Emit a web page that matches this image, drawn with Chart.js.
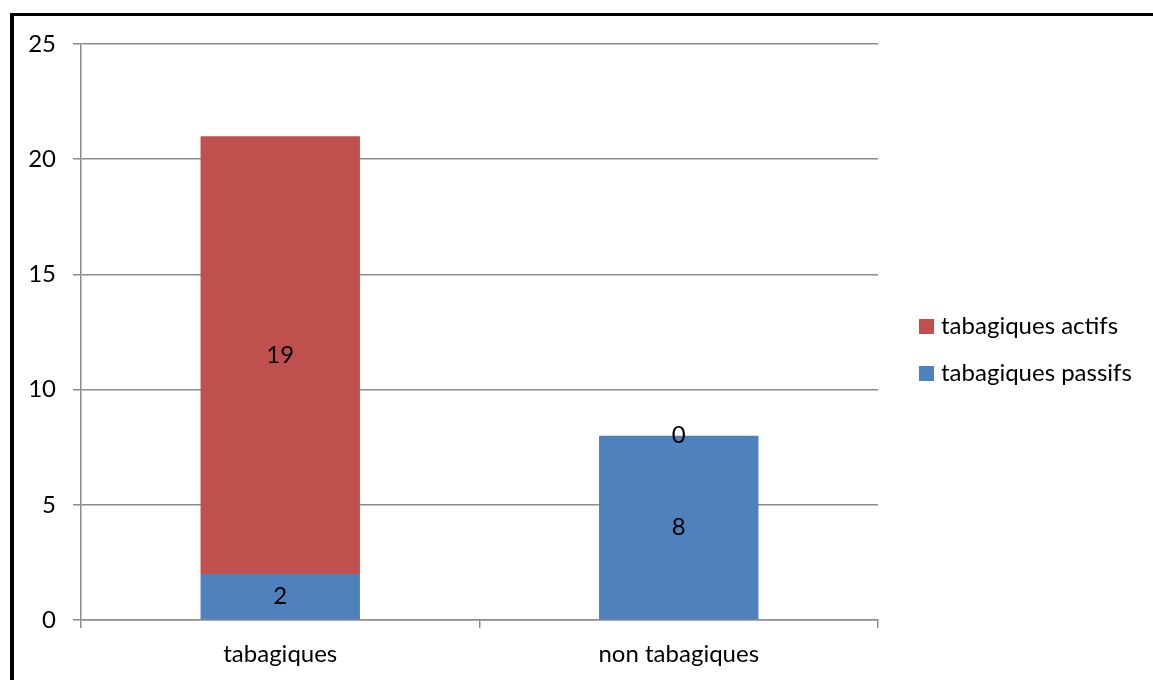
<!DOCTYPE html>
<html>
<head>
<meta charset="utf-8">
<script src="https://cdn.jsdelivr.net/npm/chart.js@4/dist/chart.umd.min.js"></script>
<style>
  html, body { margin: 0; padding: 0; background: #fff; }
  #wrap { width: 1153px; height: 680px; position: relative; }
</style>
</head>
<body>
<div id="wrap"><canvas id="smokeChart" width="1153" height="680"></canvas></div>
<script>
const categories = ["tabagiques", "non tabagiques"];
const passifs = [2, 8];
const actifs = [19, 0];
const yTicks = [0, 5, 10, 15, 20, 25];

const FONT = "Lato, 'Open Sans', sans-serif";
const SIZE = 24;
const RED = "#C0504D";
const BLUE = "#4F81BD";
const GRID = "#8C8C8C";

// black frame around the chart
const framePlugin = {
	id: "frame",
	beforeDraw(chart) {
		const c = chart.ctx;
		c.save();
		c.fillStyle = "#fff";
		c.fillRect(0, 0, chart.width, chart.height);
		c.fillStyle = "#000";
		c.fillRect(10, 13, chart.width - 10, 3);
		c.fillRect(10, 13, 4, chart.height - 13);
		c.restore();
	}
};

// value printed in the middle of each segment
const valueLabels = {
	id: "valueLabels",
	afterDatasetsDraw(chart) {
		const c = chart.ctx;
		c.save();
		c.font = SIZE + "px " + FONT;
		c.fillStyle = "#000";
		c.textAlign = "center";
		c.textBaseline = "middle";
		chart.data.datasets.forEach((ds, i) => {
			chart.getDatasetMeta(i).data.forEach((el, j) => {
				c.fillText(String(ds.data[j]), el.x, (el.y + el.base) / 2);
			});
		});
		c.restore();
	}
};

// legend on the right, last series on top
const sideLegend = {
	id: "sideLegend",
	afterDraw(chart) {
		const c = chart.ctx;
		const items = chart.data.datasets.slice().reverse();
		c.save();
		c.font = SIZE + "px " + FONT;
		c.textBaseline = "middle";
		items.forEach((ds, k) => {
			const y = 326 + k * 47;
			c.fillStyle = ds.backgroundColor;
			c.fillRect(919, y - 7, 15, 15);
			c.fillStyle = "#000";
			c.fillText(ds.label, 941, y);
		});
		c.restore();
	}
};

const ctx = document.getElementById("smokeChart").getContext("2d");
new Chart(ctx, {
	type: "bar",
	data: {
		labels: categories,
		datasets: [
			{ label: "tabagiques passifs", data: passifs, backgroundColor: BLUE },
			{ label: "tabagiques actifs", data: actifs, backgroundColor: RED }
		]
	},
	options: {
		responsive: false,
		animation: false,
		categoryPercentage: 1,
		barPercentage: 0.4,
		layout: { padding: { top: 44, right: 275, bottom: 0, left: 0 } },
		plugins: {
			legend: { display: false },
			tooltip: { enabled: false }
		},
		scales: {
			x: {
				stacked: true,
				afterFit(s) { s.height = 60; },
				grid: { offset: true, drawOnChartArea: false, tickLength: 8, color: GRID, lineWidth: 1.5 },
				border: { color: GRID, width: 1.5 },
				ticks: { color: "#000", padding: 12, font: { family: FONT, size: SIZE } }
			},
			y: {
				stacked: true,
				min: 0,
				max: 25,
				afterFit(s) { s.width = 81; },
				afterBuildTicks(s) { s.ticks = yTicks.map(v => ({ value: v })); },
				grid: { color: GRID, lineWidth: 1.5, tickLength: 8 },
				border: { color: GRID, width: 1.5 },
				ticks: { color: "#000", padding: 17, font: { family: FONT, size: SIZE } }
			}
		}
	},
	plugins: [framePlugin, valueLabels, sideLegend]
});
</script>
</body>
</html>
